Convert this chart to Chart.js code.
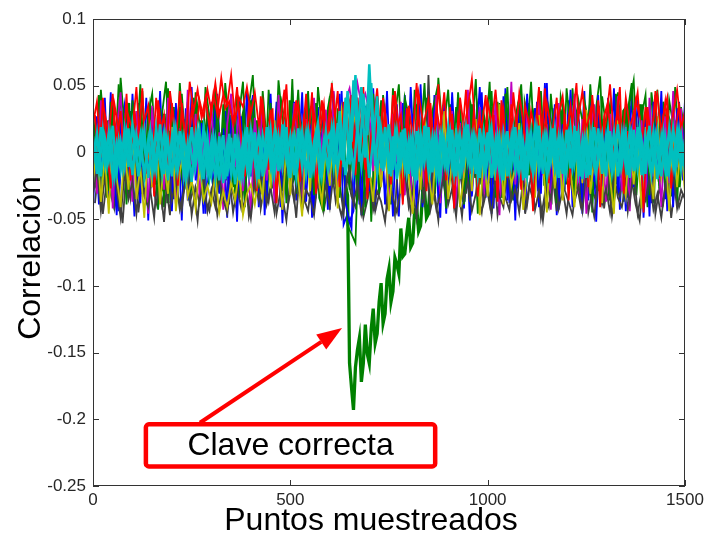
<!DOCTYPE html>
<html>
<head>
<meta charset="utf-8">
<script src="https://cdn.jsdelivr.net/npm/chart.js@4.4.1/dist/chart.umd.min.js"></script>
<style>
  html, body { margin: 0; padding: 0; background: #fff; }
  #wrap { width: 704px; height: 534px; }
</style>
</head>
<body>
<div id="wrap"><canvas id="corrChart"></canvas></div>
<script>
// Sample positions of the stored values.
const samples = Array.from({ length: 151 }, (_, i) => i * 10);      // 0, 10, ... 1500
const samplesMid = Array.from({ length: 150 }, (_, i) => i * 10 + 5); // 5, 15, ... 1495
const samplesFine = Array.from({ length: 301 }, (_, i) => i * 5);   // 0, 5, ... 1500

const xTicks = [0, 500, 1000, 1500];
const yTicks = [-0.25, -0.2, -0.15, -0.1, -0.05, 0, 0.05, 0.1];

// Correct key (every 5 samples): noise, then the deep dip right after sample 645.
const correctKey = [
  0.018, -0.011, -0.027, 0.022, 0.031, -0.019, -0.012, 0.014, 0.024, -0.029, -0.035, 0.006, 0.009, -0.024, 0.028, 0.012, -0.021, 0.025, 0.037, -0.008,
  -0.006, 0.027, 0.019, -0.022, -0.031, 0.011, 0.026, -0.017, -0.015, 0.021, 0.033, -0.012, -0.024, 0.018, 0.011, -0.029, 0.029, 0.004, -0.038, 0.015,
  0.016, -0.026, -0.009, 0.023, 0.034, -0.014, -0.028, 0.009, 0.021, -0.033, -0.017, 0.026, 0.038, -0.007, 0.003, 0.024, -0.032, 0.013, 0.025, -0.018,
  -0.013, 0.022, 0.031, -0.029, -0.026, 0.012, 0.017, -0.021, 0.036, 0.005, -0.019, 0.028, 0.008, -0.024, -0.034, 0.019, 0.027, -0.012, -0.011, 0.031,
  0.035, -0.016, -0.023, 0.024, 0.014, -0.031, 0.029, 0.007, -0.036, 0.018, 0.021, -0.027, -0.008, 0.015, 0.033, -0.019, -0.029, 0.026, 0.012, -0.014,
  0.039, -0.022, -0.018, 0.017, 0.025, -0.027, -0.033, 0.013, 0.006, 0.028, 0.031, -0.016, -0.022, 0.023, 0.017, -0.034, -0.039, 0.009, 0.028, -0.021,
  -0.014, 0.026, 0.034, -0.018, -0.027, 0.019, 0.011, -0.009, -0.025, -0.032, -0.158, -0.176, -0.193, -0.161, -0.148, -0.139, -0.172, -0.158, -0.129, -0.151,
  -0.158, -0.132, -0.117, -0.143, -0.136, -0.112, -0.098, -0.128, -0.121, -0.095, -0.087, -0.112, -0.104, -0.079, -0.084, -0.091, -0.057, -0.078, -0.076, -0.061,
  -0.049, -0.071, -0.068, -0.044, -0.041, -0.059, -0.055, -0.031, -0.028, -0.049, -0.046, -0.018, -0.012, -0.031, 0.021, -0.006, -0.034, 0.019, 0.016, -0.024,
  -0.022, 0.013, 0.032, -0.027, -0.009, 0.021, 0.027, -0.016, -0.037, 0.009, 0.014, -0.028, 0.036, 0.004, -0.019, 0.031, 0.023, -0.012, -0.031, 0.024,
  0.008, -0.023, 0.034, -0.011, -0.026, 0.017, 0.019, -0.034, -0.013, 0.026, 0.029, -0.008, -0.035, 0.014, 0.011, -0.027, 0.038, 0.006, -0.021, 0.033,
  0.025, -0.017, -0.008, 0.022, 0.033, -0.012, -0.029, 0.018, 0.016, -0.025, 0.027, 0.009, -0.039, 0.014, 0.021, -0.031, -0.014, 0.026, 0.031, -0.009,
  -0.024, 0.015, 0.037, -0.021, -0.011, 0.028, 0.022, -0.016, -0.033, 0.019, 0.029, -0.026, 0.006, 0.033, -0.027, 0.011, 0.035, -0.018, -0.016, 0.024,
  0.024, -0.013, -0.036, 0.017, 0.013, -0.024, 0.028, 0.009, -0.019, 0.031, 0.033, -0.015, -0.028, 0.021, 0.017, -0.032, -0.009, 0.026, 0.036, -0.011,
  -0.023, 0.019, 0.026, -0.029, -0.034, 0.014, 0.012, -0.022, 0.031, 0.007, -0.017, 0.028, 0.024, -0.013, -0.031, 0.022, 0.019, -0.026, -0.006, 0.015,
  0.027,
];

// Wrong keys, one value every 10 samples (on `samples`).
const cyanA = [
  0.012, -0.016, 0.019, -0.008, 0.015, -0.019, 0.006, -0.013, 0.017, -0.011, 0.021, -0.004, 0.013, -0.018, 0.009,
  -0.015, 0.018, -0.007, 0.014, -0.021, 0.011, -0.012, 0.016, -0.017, 0.007, -0.022, 0.013, -0.009, 0.018, -0.014,
  0.008, -0.019, 0.012, -0.023, 0.005, -0.016, 0.014, -0.021, 0.009, -0.012, 0.017, -0.006, 0.013, -0.018, 0.019,
  -0.009, 0.015, -0.014, 0.021, -0.005, 0.012, -0.017, 0.018, -0.011, 0.014, -0.019, 0.008, 0.022, -0.013, 0.016,
  -0.008, 0.019, -0.012, 0.015, -0.017, 0.012, -0.014, 0.018, -0.01, 0.016, -0.019, 0.011, -0.015, 0.017, -0.006,
  0.021, -0.013, 0.016, -0.009, 0.018, -0.016, 0.011, -0.021, 0.014, -0.007, 0.019, -0.015, 0.012, -0.019, 0.008,
  -0.012, 0.017, -0.018, 0.013, -0.008, 0.021, -0.014, 0.009, -0.019, 0.015, -0.006, 0.018, -0.013, 0.011, -0.021,
  0.016, -0.009, 0.019, -0.015, 0.007, -0.018, 0.014, -0.011, 0.02, -0.016, 0.012, -0.007, 0.017, -0.019, 0.01,
  -0.014, 0.018, -0.008, 0.015, -0.02, 0.011, -0.017, 0.019, -0.006, 0.013, -0.018, 0.016, -0.011, 0.021, -0.009,
  0.014, -0.019, 0.017, -0.012, 0.009, -0.016, 0.02, -0.01, 0.015, -0.018, 0.011, -0.014, 0.018, -0.007, 0.013,
  -0.015,
];

const cyanB = [
  -0.009, 0.014, -0.018, 0.011, -0.006, 0.02, -0.015, 0.008, -0.011, 0.018, -0.017, 0.013, -0.008, 0.016, -0.019,
  0.01, -0.013, 0.021, -0.016, 0.009, -0.018, 0.017, -0.005, 0.012, -0.014, 0.019, -0.01, 0.015, -0.02, 0.011,
  -0.016, 0.009, -0.021, 0.013, -0.018, 0.011, -0.024, 0.006, -0.017, 0.019, -0.012, 0.015, -0.02, 0.012, -0.007,
  0.017, -0.015, 0.012, -0.01, 0.019, -0.019, 0.013, -0.006, 0.016, -0.016, 0.011, -0.012, 0.015, -0.017, 0.008,
  0.014, -0.011, 0.022, -0.006, 0.041, -0.009, 0.054, 0.012, 0.049, -0.004, 0.066, 0.008, 0.042, -0.012, 0.019,
  -0.016, 0.012, -0.02, 0.015, -0.012, 0.009, -0.018, 0.016, -0.01, 0.02, -0.014, 0.011, -0.017, 0.013, -0.008,
  0.019, -0.011, 0.014, -0.02, 0.016, -0.007, 0.012, -0.016, 0.018, -0.012, 0.015, -0.019, 0.009, -0.015, 0.013,
  -0.018, 0.011, -0.013, 0.017, -0.021, 0.014, -0.008, 0.019, -0.013, 0.01, -0.017, 0.015, -0.011, 0.012, -0.016,
  0.017, -0.012, 0.02, -0.015, 0.009, -0.019, 0.013, -0.01, 0.018, -0.016, 0.012, -0.008, 0.015, -0.018, 0.014,
  -0.011, 0.016, -0.014, 0.019, -0.017, 0.012, -0.009, 0.015, -0.02, 0.011, -0.013, 0.018, -0.01, 0.016, -0.012,
  0.01,
];

const redA = [
  0.021, 0.038, -0.004, 0.029, 0.012, 0.044, 0.006, 0.031, -0.012, 0.027, 0.017, 0.049, 0.002, 0.024, 0.035,
  -0.008, 0.041, 0.013, 0.028, -0.015, 0.037, 0.009, 0.046, 0.019, -0.002, 0.033, 0.011, 0.039, 0.026, 0.047,
  0.031, 0.052, 0.028, 0.043, 0.036, 0.058, 0.024, 0.041, 0.034, 0.049, 0.029, 0.045, 0.021, 0.038, 0.004,
  0.032, -0.011, 0.027, 0.014, 0.051, -0.006, 0.023, 0.036, 0.008, 0.044, -0.018, 0.029, 0.012, 0.039, 0.001,
  0.034, 0.017, 0.046, -0.009, 0.025, 0.038, 0.003, 0.041, 0.015, -0.013, 0.036, 0.022, 0.048, 0.007, 0.031,
  -0.004, 0.043, 0.019, 0.028, -0.016, 0.035, 0.011, 0.052, 0.006, 0.024, 0.039, -0.007, 0.033, 0.016, 0.045,
  0.002, 0.029, -0.012, 0.041, 0.018, 0.034, 0.055, 0.009, 0.027, -0.005, 0.038, 0.021, 0.047, 0.012, 0.032,
  -0.019, 0.036, 0.008, 0.044, 0.023, -0.003, 0.031, 0.015, 0.049, 0.004, 0.037, 0.019, -0.011, 0.028, 0.042,
  0.013, 0.035, -0.006, 0.026, 0.046, 0.017, 0.031, -0.014, 0.039, 0.008, 0.024, 0.051, 0.011, 0.033, -0.002,
  0.041, 0.019, 0.029, 0.045, 0.006, 0.034, -0.009, 0.026, 0.043, 0.014, 0.038, 0.003, 0.029, 0.047, 0.018,
  0.031,
];

const greenA = [
  0.035, -0.018, 0.047, 0.009, -0.029, 0.041, -0.011, 0.056, 0.018, -0.034, 0.039, 0.004, 0.051, -0.022, 0.029,
  0.044, -0.009, 0.033, -0.041, 0.048, 0.015, -0.026, 0.052, 0.007, 0.038, -0.016, 0.045, 0.021, -0.037, 0.034,
  0.011, 0.049, -0.023, 0.036, 0.002, 0.043, -0.031, 0.028, 0.053, -0.012, 0.039, 0.016, -0.027, 0.046, 0.008,
  0.037, -0.019, 0.054, 0.024, -0.038, 0.031, 0.006, 0.047, -0.015, 0.035, 0.013, -0.032, 0.049, 0.019, -0.008,
  0.042, -0.024, 0.033, 0.011, 0.038, -0.028, 0.021, -0.036, 0.017, -0.041, 0.024, 0.044, -0.013, 0.039, 0.005,
  -0.033, 0.048, 0.015, -0.021, 0.041, 0.027, -0.044, 0.036, 0.009, 0.052, -0.018, 0.031, 0.045, -0.027, 0.022,
  0.047, -0.011, 0.034, 0.003, -0.039, 0.043, 0.018, 0.055, -0.024, 0.029, 0.012, 0.046, -0.034, 0.037, 0.006,
  0.049, -0.017, 0.026, 0.041, -0.031, 0.014, 0.053, -0.008, 0.035, 0.022, -0.042, 0.044, 0.009, 0.031, -0.021,
  0.048, 0.016, -0.035, 0.039, 0.024, -0.014, 0.051, 0.007, -0.029, 0.042, 0.019, 0.036, -0.038, 0.045, 0.011,
  -0.023, 0.038, 0.054, -0.012, 0.027, 0.043, -0.032, 0.018, 0.047, 0.004, -0.026, 0.039, 0.021, -0.041, 0.034,
  0.013,
];

const blueA = [
  -0.042, 0.027, -0.015, 0.041, -0.033, 0.008, -0.047, 0.019, 0.036, -0.024, 0.044, -0.006, -0.038, 0.023, -0.051,
  0.031, -0.019, 0.046, -0.029, 0.012, -0.044, 0.037, -0.011, 0.025, -0.036, 0.049, -0.021, 0.005, -0.046, 0.033,
  -0.014, 0.042, -0.031, 0.018, -0.049, 0.028, -0.007, 0.039, -0.026, 0.047, -0.018, 0.024, -0.041, 0.011, -0.035,
  0.044, -0.022, 0.029, -0.053, 0.016, -0.031, 0.038, -0.009, 0.045, -0.037, 0.021, -0.045, 0.034, -0.016, 0.027,
  -0.043, 0.039, -0.024, 0.046, -0.038, -0.052, -0.044, 0.041, -0.047, 0.035, -0.029, 0.048, -0.012, 0.026, -0.039,
  0.017, -0.048, 0.036, -0.021, 0.043, -0.006, 0.029, -0.044, 0.051, -0.017, 0.032, -0.036, 0.014, -0.049, 0.039,
  -0.025, 0.045, -0.011, 0.023, -0.042, 0.037, -0.033, 0.008, 0.049, -0.028, 0.019, -0.046, 0.031, -0.014, 0.042,
  -0.036, 0.026, -0.051, 0.038, -0.019, 0.044, -0.008, 0.033, -0.041, 0.015, 0.052, -0.027, 0.036, -0.043, 0.021,
  -0.012, 0.047, -0.034, 0.028, -0.046, 0.011, 0.039, -0.022, 0.043, -0.039, 0.024, -0.015, 0.048, -0.031, 0.017,
  -0.044, 0.035, -0.026, 0.041, -0.009, 0.029, -0.048, 0.038, -0.018, 0.046, -0.035, 0.022, -0.041, 0.033, -0.013,
  0.039,
];

const magentaA = [
  0.012, -0.031, 0.039, -0.008, 0.024, -0.042, 0.017, 0.045, -0.019, 0.006, -0.037, 0.031, -0.004, 0.022, -0.046,
  0.035, -0.013, 0.027, -0.028, 0.041, 0.003, -0.039, 0.018, -0.022, 0.047, -0.009, 0.029, -0.034, 0.011, -0.017,
  0.038, -0.026, 0.015, -0.043, 0.021, 0.044, -0.011, 0.033, -0.029, 0.008, -0.048, 0.026, -0.005, 0.036, -0.021,
  0.014, -0.038, 0.043, -0.015, 0.019, -0.031, 0.037, 0.002, -0.044, 0.025, -0.012, 0.041, -0.027, 0.009, 0.032,
  -0.018, 0.046, -0.035, 0.013, 0.039, 0.048, 0.028, 0.052, 0.036, 0.044, 0.031, -0.014, 0.042, -0.023, 0.016,
  -0.041, 0.029, -0.007, 0.038, -0.032, 0.011, -0.045, 0.024, 0.004, -0.026, 0.035, -0.016, 0.043, -0.038, 0.017,
  -0.009, 0.031, -0.042, 0.022, -0.019, 0.047, -0.028, 0.006, 0.034, -0.036, 0.015, -0.011, 0.039, -0.047, 0.026,
  -0.014, 0.053, -0.024, 0.009, -0.039, 0.028, 0.003, -0.033, 0.041, -0.017, 0.021, -0.043, 0.012, 0.037, -0.026,
  0.018, -0.008, 0.044, -0.031, 0.025, -0.046, 0.013, 0.036, -0.021, 0.007, -0.037, 0.029, -0.013, 0.042, -0.029,
  0.019, -0.044, 0.032, -0.006, 0.024, -0.035, 0.041, -0.018, 0.011, -0.041, 0.027, -0.023, 0.046, -0.011, 0.033,
  -0.027,
];

const yellowA = [
  -0.024, 0.008, -0.037, -0.003, -0.046, 0.015, -0.019, -0.041, 0.004, -0.028, 0.021, -0.035, -0.011, -0.049, 0.006,
  -0.026, 0.012, -0.039, -0.007, -0.031, 0.019, -0.044, -0.015, 0.002, -0.033, -0.021, -0.042, -0.009, -0.036, -0.025,
  -0.038, -0.017, -0.045, -0.029, -0.041, -0.022, -0.036, -0.013, -0.047, -0.031, -0.024, -0.039, -0.018, -0.034, 0.011,
  -0.027, 0.024, -0.014, -0.043, 0.005, -0.032, 0.017, -0.021, -0.048, 0.009, -0.029, 0.028, -0.016, -0.038, 0.003,
  -0.025, 0.019, -0.042, 0.032, 0.014, 0.027, 0.021, 0.035, 0.018, 0.029, -0.012, -0.037, 0.007, -0.026, 0.016,
  -0.044, -0.008, 0.023, -0.031, 0.011, -0.019, -0.046, 0.004, -0.028, 0.026, -0.013, -0.039, 0.009, -0.022, 0.031,
  -0.035, -0.006, 0.018, -0.041, -0.017, 0.012, -0.029, 0.025, -0.047, -0.002, -0.033, 0.014, -0.021, 0.036, -0.039,
  0.007, -0.025, -0.011, 0.022, -0.043, -0.016, 0.013, -0.034, 0.028, -0.008, -0.045, 0.017, -0.027, 0.005, -0.036,
  0.021, -0.014, -0.041, 0.009, -0.023, 0.032, -0.031, -0.005, 0.016, -0.038, 0.011, -0.019, -0.046, 0.024, -0.012,
  -0.033, 0.015, -0.024, 0.006, -0.042, 0.019, -0.009, -0.035, 0.027, -0.018, 0.003, -0.044, 0.013, -0.026, 0.008,
  -0.031,
];

const grayA = [
  -0.031, -0.012, -0.044, -0.019, -0.038, -0.006, -0.027, -0.049, -0.015, -0.035, -0.022, -0.046, -0.009, -0.033, -0.041,
  -0.018, -0.039, -0.025, -0.052, -0.011, -0.036, -0.021, -0.043, -0.029, -0.014, -0.047, -0.026, -0.038, -0.017, -0.044,
  -0.028, -0.041, -0.019, -0.035, -0.046, -0.024, -0.038, -0.013, -0.042, -0.031, -0.049, -0.022, -0.036, -0.008, -0.039,
  -0.026, -0.045, -0.016, -0.033, -0.051, -0.021, -0.037, -0.012, -0.043, -0.028, -0.034, -0.047, -0.019, -0.038, -0.024,
  -0.041, -0.015, -0.036, -0.048, -0.027, -0.011, -0.039, -0.023, -0.046, -0.032, -0.018, -0.043, -0.029, -0.037, -0.052,
  -0.021, -0.034, -0.045, -0.026, -0.013, -0.041, -0.028, -0.049, -0.019, -0.036, 0.058, -0.024, -0.043, -0.031, -0.016,
  -0.039, -0.027, -0.048, -0.014, -0.035, -0.022, -0.044, -0.031, -0.009, -0.038, -0.025, -0.047, -0.018, -0.033, -0.041,
  -0.012, -0.036, -0.027, -0.045, -0.021, -0.039, -0.016, -0.043, -0.029, -0.051, -0.024, -0.035, -0.011, -0.042, -0.028,
  -0.046, -0.019, -0.037, -0.025, -0.044, -0.014, -0.032, -0.048, -0.021, -0.039, -0.027, -0.045, -0.017, -0.034, -0.041,
  -0.023, -0.038, -0.012, -0.046, -0.029, -0.036, -0.019, -0.043, -0.031, -0.049, -0.024, -0.037, -0.015, -0.042, -0.028,
  -0.035,
];

// More wrong keys, on the in-between samples (`samplesMid`).
const cyanC = [
  0.006, -0.014, 0.016, -0.01, 0.013, -0.017, 0.009, -0.012, 0.015, -0.007, 0.011, -0.018, 0.014, -0.005, 0.017,
  -0.012, 0.008, -0.016, 0.012, -0.009, 0.018, -0.013, 0.01, -0.019, 0.007, -0.011, 0.016, -0.015, 0.009, -0.018,
  0.011, -0.013, 0.006, -0.02, 0.014, -0.012, 0.008, -0.017, 0.013, -0.015, 0.01, -0.019, 0.007, -0.011, 0.015,
  -0.016, 0.012, -0.008, 0.017, -0.014, 0.009, -0.018, 0.013, -0.006, 0.016, -0.013, 0.011, -0.017, 0.008, -0.012,
  0.018, -0.009, 0.031, -0.011, 0.046, 0.008, 0.058, -0.007, 0.044, 0.013, 0.052, -0.01, 0.027, -0.014, 0.012,
  -0.018, 0.014, -0.011, 0.017, -0.015, 0.009, -0.019, 0.012, -0.008, 0.016, -0.013, 0.01, -0.017, 0.014, -0.01,
  0.015, -0.016, 0.011, -0.012, 0.018, -0.009, 0.013, -0.018, 0.008, -0.014, 0.017, -0.011, 0.012, -0.016, 0.009,
  -0.013, 0.016, -0.01, 0.014, -0.019, 0.011, -0.015, 0.017, -0.008, 0.013, -0.012, 0.018, -0.014, 0.01, -0.017,
  0.012, -0.011, 0.016, -0.018, 0.009, -0.013, 0.015, -0.016, 0.011, -0.01, 0.017, -0.015, 0.008, -0.012, 0.014,
  -0.017, 0.013, -0.009, 0.018, -0.014, 0.01, -0.016, 0.012, -0.011, 0.015, -0.018, 0.009, -0.013, 0.016, -0.01,
];

const redB = [
  0.028, -0.014, 0.041, 0.006, -0.027, 0.035, 0.017, -0.009, 0.044, -0.021, 0.031, 0.003, 0.048, -0.016, 0.024,
  -0.033, 0.039, 0.012, -0.006, 0.046, 0.021, -0.025, 0.037, 0.008, 0.053, 0.031, 0.047, 0.026, 0.041, 0.019,
  0.044, 0.029, 0.056, 0.033, 0.038, 0.022, 0.049, 0.014, -0.018, 0.036, 0.004, -0.029, 0.042, 0.011, -0.013,
  0.033, -0.038, 0.024, 0.047, -0.007, 0.018, 0.039, -0.022, 0.029, 0.006, 0.045, -0.031, 0.016, 0.036, -0.011,
  0.052, 0.021, -0.026, 0.038, 0.009, 0.043, -0.017, 0.027, 0.049, -0.035, 0.014, 0.031, -0.008, 0.041, 0.002,
  -0.024, 0.046, 0.017, -0.039, 0.033, 0.008, -0.014, 0.044, 0.025, -0.029, 0.037, -0.004, 0.051, 0.012, -0.021,
  0.034, -0.042, 0.026, 0.009, 0.047, -0.016, 0.031, -0.033, 0.019, 0.043, -0.009, 0.028, -0.037, 0.039, 0.006,
  -0.019, 0.045, 0.014, -0.028, 0.035, 0.021, -0.044, 0.032, 0.001, 0.048, -0.023, 0.017, 0.041, -0.012, 0.029,
  -0.036, 0.024, 0.052, -0.006, 0.033, -0.026, 0.043, 0.011, -0.041, 0.027, 0.038, -0.015, 0.022, 0.049, -0.031,
  0.016, -0.008, 0.039, 0.027, -0.045, 0.034, 0.005, 0.046, -0.019, 0.028, 0.041, -0.027, 0.013, 0.037, -0.004,
];

const blueB = [
  0.019, -0.039, 0.032, -0.021, 0.045, -0.008, -0.044, 0.026, -0.031, 0.011, -0.048, 0.037, -0.016, 0.041, -0.027,
  0.004, -0.042, 0.029, -0.013, 0.046, -0.035, 0.018, -0.051, 0.033, -0.006, 0.039, -0.024, 0.022, -0.046, 0.013,
  -0.029, 0.044, -0.018, 0.031, -0.039, 0.009, -0.052, 0.027, -0.034, 0.016, 0.043, -0.025, 0.035, -0.047, 0.021,
  -0.011, 0.038, -0.041, 0.024, -0.019, 0.047, -0.036, 0.012, -0.028, 0.041, -0.049, 0.017, -0.008, 0.034, -0.043,
  0.029, -0.021, 0.044, -0.054, -0.046, -0.057, 0.036, -0.039, 0.042, -0.031, 0.019, -0.044, 0.028, -0.017, 0.046,
  -0.033, 0.011, -0.048, 0.037, -0.022, 0.049, -0.012, 0.026, -0.041, 0.018, -0.029, 0.043, -0.037, 0.007, -0.046,
  0.032, -0.015, 0.041, -0.027, 0.021, -0.051, 0.036, -0.009, 0.045, -0.034, 0.014, -0.042, 0.029, -0.023, 0.048,
  -0.038, 0.017, -0.026, 0.044, -0.045, 0.025, -0.013, 0.038, -0.031, 0.052, -0.019, 0.033, -0.047, 0.009, -0.028,
  0.039, -0.041, 0.021, -0.016, 0.046, -0.036, 0.027, -0.052, 0.015, -0.024, 0.041, -0.011, 0.035, -0.043, 0.023,
  -0.034, 0.047, -0.018, 0.029, -0.049, 0.012, -0.038, 0.043, -0.025, 0.031, -0.044, 0.019, -0.032, 0.038, -0.021,
];

const grayB = [
  -0.038, -0.009, -0.046, -0.021, 0.008, -0.041, -0.026, -0.053, -0.012, -0.034, 0.004, -0.045, -0.019, -0.037, -0.028,
  -0.049, -0.006, -0.039, -0.024, -0.047, 0.011, -0.032, -0.043, -0.017, -0.038, -0.027, -0.051, -0.014, -0.036, -0.044,
  -0.022, -0.047, -0.031, -0.039, -0.018, -0.045, -0.026, -0.041, -0.011, -0.048, -0.033, 0.006, -0.042, -0.024, -0.037,
  -0.015, -0.046, -0.029, 0.012, -0.038, -0.021, -0.049, -0.008, -0.035, -0.044, -0.019, -0.031, 0.015, -0.043, -0.026,
  -0.012, -0.037, -0.023, -0.046, -0.018, -0.033, -0.041, -0.027, -0.049, -0.036, -0.022, -0.044, -0.031, -0.015, -0.042,
  -0.028, -0.047, 0.009, -0.035, -0.019, -0.045, -0.024, 0.044, -0.038, -0.011, -0.043, -0.029, -0.051, -0.017, -0.036,
  -0.004, -0.041, -0.026, -0.048, -0.013, -0.037, 0.017, -0.032, -0.045, -0.021, -0.039, -0.008, -0.047, -0.027, -0.034,
  -0.043, -0.016, -0.038, 0.007, -0.046, -0.025, -0.035, -0.012, -0.049, -0.031, -0.041, -0.019, -0.044, 0.013, -0.028,
  -0.037, -0.047, -0.022, -0.039, -0.011, -0.045, -0.029, -0.036, 0.021, -0.042, -0.018, -0.048, -0.026, -0.033, -0.009,
  -0.044, -0.021, -0.039, -0.051, -0.016, -0.035, 0.003, -0.046, -0.027, -0.038, -0.013, -0.049, -0.024, -0.041, -0.031,
];

const greenB = [
  -0.026, 0.043, 0.012, -0.034, 0.038, -0.009, 0.051, 0.021, -0.039, 0.031, 0.007, -0.024, 0.046, -0.015, 0.036,
  0.018, -0.043, 0.029, 0.053, -0.011, 0.034, -0.028, 0.044, 0.003, -0.036, 0.041, 0.016, -0.021, 0.049, 0.027,
  -0.014, 0.039, -0.033, 0.052, 0.019, -0.026, 0.044, 0.009, -0.041, 0.035, 0.058, -0.006, 0.031, -0.029, 0.047,
  0.013, -0.037, 0.042, 0.024, -0.018, 0.055, -0.031, 0.028, 0.004, 0.046, -0.022, 0.037, 0.011, -0.044, 0.033,
  0.049, 0.008, -0.034, 0.026, -0.055, -0.061, -0.068, 0.021, -0.047, 0.036, -0.052, 0.019, -0.031, 0.043, 0.014,
  -0.039, 0.027, 0.051, -0.016, 0.034, -0.028, 0.047, 0.009, -0.035, 0.041, 0.022, -0.013, 0.056, 0.018, -0.042,
  0.036, -0.019, 0.045, 0.006, -0.031, 0.039, 0.024, -0.046, 0.032, 0.011, 0.053, -0.024, 0.038, -0.008, 0.044,
  0.017, -0.036, 0.029, 0.051, -0.014, 0.037, -0.043, 0.021, 0.046, -0.009, 0.033, 0.013, -0.038, 0.042, 0.026,
  -0.019, 0.048, 0.005, -0.032, 0.039, 0.023, -0.045, 0.034, 0.057, -0.016, 0.027, -0.029, 0.044, 0.012, -0.037,
  0.031, 0.052, -0.022, 0.036, 0.008, -0.041, 0.045, 0.019, -0.027, 0.038, 0.014, -0.033, 0.049, 0.002, 0.028,
];

// Annotation, in data units (sample, correlation).
const noteText = 'Clave correcta';
const noteBox = { x0: 134, x1: 867, y0: -0.2038, y1: -0.2353 };
const arrowFrom = [271, -0.2026];
const arrowTo = [631, -0.1316];

const FONT = "'Liberation Sans', Arial, sans-serif";

// First entry is drawn on top (Chart.js draws datasets in reverse order).
const traces = [
  { name: 'c1', color: '#00bfbf', xs: samples, values: cyanA, width: 2.5 },
  { name: 'c2', color: '#00bfbf', xs: samples, values: cyanB, width: 2.5 },
  { name: 'c3', color: '#00bfbf', xs: samplesMid, values: cyanC, width: 2.5 },
  { name: 'r1', color: '#ff0000', xs: samples, values: redA, width: 1.8 },
  { name: 'r2', color: '#ff0000', xs: samplesMid, values: redB, width: 1.8 },
  { name: 'y1', color: '#bfbf00', xs: samples, values: yellowA, width: 1.8 },
  { name: 'k1', color: '#404040', xs: samples, values: grayA, width: 1.8 },
  { name: 'm1', color: '#bf00bf', xs: samples, values: magentaA, width: 1.8 },
  { name: 'g1', color: '#008000', xs: samples, values: greenA, width: 1.8 },
  { name: 'b1', color: '#0000ff', xs: samples, values: blueA, width: 1.8 },
  { name: 'g2', color: '#008000', xs: samplesMid, values: greenB, width: 1.8 },
  { name: 'k2', color: '#404040', xs: samplesMid, values: grayB, width: 1.8 },
  { name: 'b2', color: '#0000ff', xs: samplesMid, values: blueB, width: 1.8 },
  { name: 'correcta', color: '#008000', xs: samplesFine, values: correctKey, width: 3.3 },
];

const matlabFrame = {
  id: 'matlabFrame',
  afterDatasetsDraw: (chart) => {
    const { ctx, chartArea: a, scales: { x, y } } = chart;
    ctx.save();
    ctx.strokeStyle = '#333';
    ctx.lineWidth = 1;
    ctx.strokeRect(a.left + 0.5, a.top + 0.5, a.width - 1, a.height - 1);
    ctx.beginPath();
    yTicks.forEach((v) => {
      const py = Math.round(y.getPixelForValue(v)) + 0.5;
      ctx.moveTo(a.left, py);
      ctx.lineTo(a.left + 6, py);
      ctx.moveTo(a.right, py);
      ctx.lineTo(a.right - 6, py);
    });
    xTicks.forEach((v) => {
      const px = Math.round(x.getPixelForValue(v)) + 0.5;
      ctx.moveTo(px, a.bottom);
      ctx.lineTo(px, a.bottom - 6);
      ctx.moveTo(px, a.top);
      ctx.lineTo(px, a.top + 6);
    });
    ctx.stroke();
    ctx.restore();
  },
};

const noteAndTitles = {
  id: 'noteAndTitles',
  afterDraw: (chart) => {
    const { ctx, scales: { x, y } } = chart;
    ctx.save();
    // arrow
    const sx = x.getPixelForValue(arrowFrom[0]);
    const sy = y.getPixelForValue(arrowFrom[1]);
    const tx = x.getPixelForValue(arrowTo[0]);
    const ty = y.getPixelForValue(arrowTo[1]);
    const ang = Math.atan2(ty - sy, tx - sx);
    const headLen = 25;
    const headW = 9;
    const hx = tx - headLen * Math.cos(ang);
    const hy = ty - headLen * Math.sin(ang);
    ctx.strokeStyle = '#ff0000';
    ctx.fillStyle = '#ff0000';
    ctx.lineWidth = 4;
    ctx.beginPath();
    ctx.moveTo(sx, sy);
    ctx.lineTo(hx, hy);
    ctx.stroke();
    ctx.beginPath();
    ctx.moveTo(tx, ty);
    ctx.lineTo(hx + headW * Math.sin(ang), hy - headW * Math.cos(ang));
    ctx.lineTo(hx - headW * Math.sin(ang), hy + headW * Math.cos(ang));
    ctx.closePath();
    ctx.fill();

    // box
    const bx0 = x.getPixelForValue(noteBox.x0);
    const bx1 = x.getPixelForValue(noteBox.x1);
    const by0 = y.getPixelForValue(noteBox.y0);
    const by1 = y.getPixelForValue(noteBox.y1);
    ctx.fillStyle = '#fff';
    ctx.lineWidth = 4.5;
    ctx.beginPath();
    if (ctx.roundRect) ctx.roundRect(bx0, by0, bx1 - bx0, by1 - by0, 3);
    else ctx.rect(bx0, by0, bx1 - bx0, by1 - by0);
    ctx.fill();
    ctx.stroke();

    ctx.fillStyle = '#000';
    ctx.font = `32px ${FONT}`;
    ctx.textAlign = 'center';
    ctx.textBaseline = 'alphabetic';
    ctx.fillText(noteText, (bx0 + bx1) / 2, by1 - 11);

    // axis titles
    ctx.fillText('Puntos muestreados', 371, 530);
    ctx.translate(40, 258);
    ctx.rotate(-Math.PI / 2);
    ctx.fillText('Correlación', 0, 0);
    ctx.restore();
  },
};

const ctx = document.getElementById('corrChart').getContext('2d');
new Chart(ctx, {
  type: 'line',
  data: {
    datasets: traces.map((t) => ({
      label: t.name,
      data: t.values.map((v, i) => ({ x: t.xs[i], y: v })),
      borderColor: t.color,
      backgroundColor: t.color,
      borderWidth: t.width,
      pointRadius: 0,
      tension: 0,
      fill: false,
    })),
  },
  options: {
    responsive: true,
    maintainAspectRatio: false,
    animation: false,
    events: [],
    layout: { padding: { left: 0, top: 19, right: 19, bottom: 0 } },
    scales: {
      x: {
        type: 'linear',
        min: 0,
        max: 1500,
        afterBuildTicks: (s) => { s.ticks = xTicks.map((v) => ({ value: v })); },
        afterFit: (s) => { s.height = 48; s.paddingLeft = 0; s.paddingRight = 0; },
        grid: { display: false, drawTicks: false },
        border: { display: false },
        ticks: {
          padding: 4,
          color: '#262626',
          font: { family: FONT, size: 17 },
          callback: (v) => String(v),
          maxRotation: 0,
        },
      },
      y: {
        type: 'linear',
        min: -0.25,
        max: 0.1,
        afterBuildTicks: (s) => { s.ticks = yTicks.map((v) => ({ value: v })); },
        afterFit: (s) => { s.width = 93; s.paddingTop = 0; s.paddingBottom = 0; },
        grid: { display: false, drawTicks: false },
        border: { display: false },
        ticks: {
          padding: 7,
          color: '#262626',
          font: { family: FONT, size: 17 },
          callback: (v) => String(v),
        },
      },
    },
    plugins: {
      legend: { display: false },
      tooltip: { enabled: false },
    },
  },
  plugins: [matlabFrame, noteAndTitles],
});
</script>
</body>
</html>
